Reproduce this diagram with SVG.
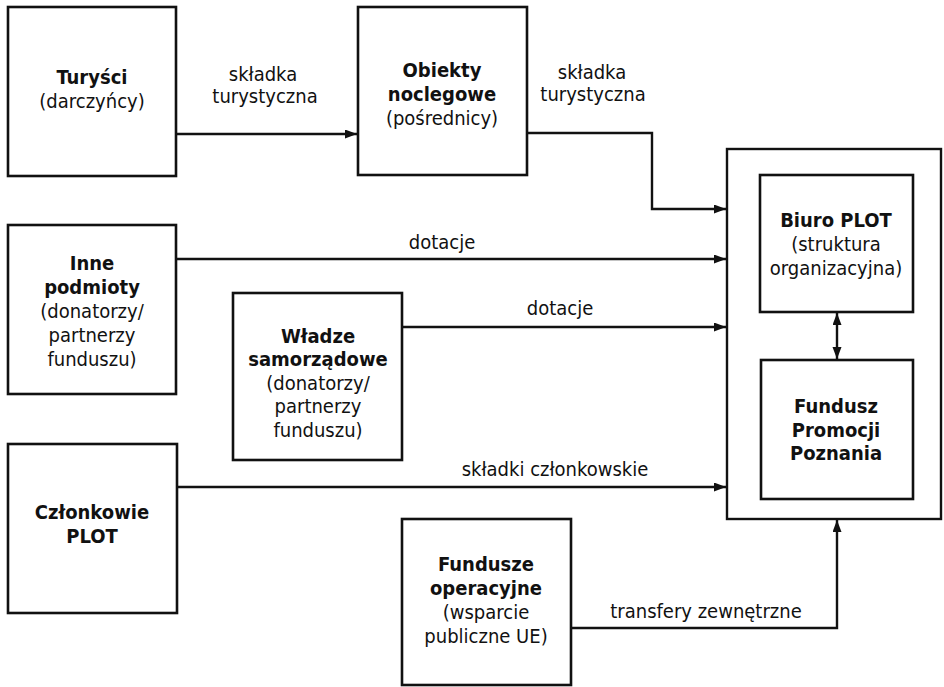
<svg xmlns="http://www.w3.org/2000/svg" width="944" height="687" viewBox="0 0 944 687">
  <style>
    .box { fill: #fff; stroke: #111; stroke-width: 2.6; }
    .outer { fill: #fff; stroke: #111; stroke-width: 2.4; }
    .conn { fill: none; stroke: #111; stroke-width: 2.4; }
    text { font-family: "DejaVu Sans Condensed", "DejaVu Sans", sans-serif; font-size: 20px; fill: #111; text-anchor: middle; }
    .b { font-weight: bold; }
  </style>
  <defs>
    <marker id="arr" markerUnits="userSpaceOnUse" markerWidth="13" markerHeight="10" refX="12" refY="4.5" orient="auto-start-reverse">
      <path d="M0,0 L12,4.5 L0,9 z" fill="#111"/>
    </marker>
  </defs>
  <rect width="944" height="687" fill="#fff"/>

  <g id="plot-outer">
    <rect class="outer" x="727" y="149" width="214" height="370"/>
  </g>

  <g id="turysci">
    <rect class="box" x="8" y="7" width="168" height="169"/>
    <text x="92" y="84" class="b">Turyści</text>
    <text x="92" y="108">(darczyńcy)</text>
  </g>

  <g id="obiekty">
    <rect class="box" x="358" y="7" width="169" height="168"/>
    <text x="442" y="77" class="b">Obiekty</text>
    <text x="442" y="101" class="b">noclegowe</text>
    <text x="442" y="125">(pośrednicy)</text>
  </g>

  <g id="inne">
    <rect class="box" x="8" y="225" width="168" height="169"/>
    <text x="92" y="270" class="b">Inne</text>
    <text x="92" y="294" class="b">podmioty</text>
    <text x="92" y="318">(donatorzy/</text>
    <text x="92" y="342">partnerzy</text>
    <text x="92" y="366">funduszu)</text>
  </g>

  <g id="wladze">
    <rect class="box" x="233" y="293" width="169" height="167"/>
    <text x="318" y="343" class="b">Władze</text>
    <text x="318" y="366" class="b">samorządowe</text>
    <text x="318" y="390">(donatorzy/</text>
    <text x="318" y="413">partnerzy</text>
    <text x="318" y="437">funduszu)</text>
  </g>

  <g id="czlonkowie">
    <rect class="box" x="8" y="444" width="169" height="169"/>
    <text x="92" y="519" class="b">Członkowie</text>
    <text x="92" y="543" class="b">PLOT</text>
  </g>

  <g id="fundusze-operacyjne">
    <rect class="box" x="402" y="519" width="169" height="166"/>
    <text x="486" y="571" class="b">Fundusze</text>
    <text x="486" y="595" class="b">operacyjne</text>
    <text x="486" y="619">(wsparcie</text>
    <text x="486" y="643">publiczne UE)</text>
  </g>

  <g id="biuro">
    <rect class="box" x="760" y="175" width="153" height="137"/>
    <text x="836" y="227" class="b">Biuro PLOT</text>
    <text x="836" y="251">(struktura</text>
    <text x="836" y="275">organizacyjna)</text>
  </g>

  <g id="fundusz-promocji">
    <rect class="box" x="761" y="360" width="152" height="139"/>
    <text x="836" y="413" class="b">Fundusz</text>
    <text x="836" y="437" class="b">Promocji</text>
    <text x="836" y="460" class="b">Poznania</text>
  </g>

  <g id="connectors">
    <path class="conn" d="M176,134 H357" marker-end="url(#arr)"/>
    <path class="conn" d="M527,133 H652 V209 H726" marker-end="url(#arr)"/>
    <path class="conn" d="M176,259 H726" marker-end="url(#arr)"/>
    <path class="conn" d="M402,327 H726" marker-end="url(#arr)"/>
    <path class="conn" d="M177,487 H726" marker-end="url(#arr)"/>
    <path class="conn" d="M571,628 H837 V520" marker-end="url(#arr)"/>
    <path class="conn" d="M837,313 V359" marker-start="url(#arr)" marker-end="url(#arr)"/>
  </g>

  <g id="labels">
    <text x="263" y="81">składka</text>
    <text x="265" y="103">turystyczna</text>
    <text x="592" y="79">składka</text>
    <text x="593" y="101">turystyczna</text>
    <text x="442" y="249">dotacje</text>
    <text x="560" y="315">dotacje</text>
    <text x="555" y="476">składki członkowskie</text>
    <text x="706" y="618">transfery zewnętrzne</text>
  </g>
</svg>
